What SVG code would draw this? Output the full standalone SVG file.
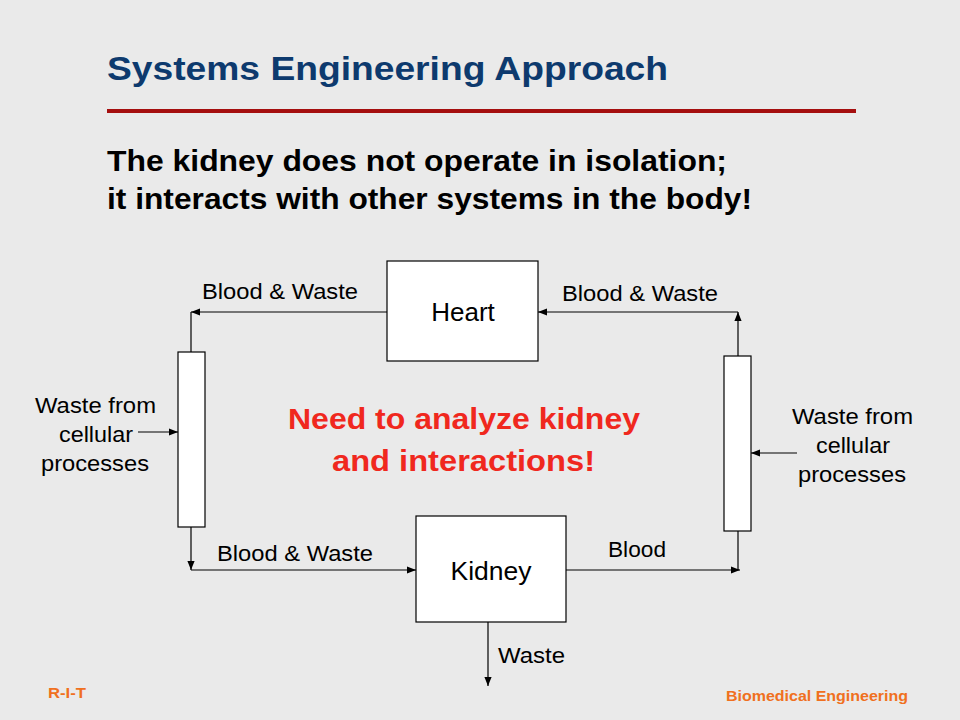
<svg xmlns="http://www.w3.org/2000/svg" width="960" height="720" viewBox="0 0 960 720">
<defs>
<marker id="ah" viewBox="0 0 10 10" refX="10" refY="5" markerWidth="9" markerHeight="9" markerUnits="userSpaceOnUse" orient="auto">
<path d="M0,1 L10,5 L0,9 z" fill="#000"/>
</marker>
<style>
.t{font-family:"Liberation Sans",Arial,sans-serif;fill:#000}
.lbl{font-size:22px}
.box{fill:#fff;stroke:#000;stroke-width:1.2}
.ln{fill:none;stroke:#000;stroke-width:1.2}
.ar{fill:none;stroke:#000;stroke-width:1.2;marker-end:url(#ah)}
.org{font-family:"Liberation Sans",Arial,sans-serif;font-weight:bold;font-size:14px;fill:#f07020}
</style>
</defs>
<rect width="960" height="720" fill="#eaeaea"/>
<text class="t" x="107" y="80" font-size="33" font-weight="bold" style="fill:#0d3a6e" textLength="561" lengthAdjust="spacingAndGlyphs">Systems Engineering Approach</text>
<rect x="107" y="109" width="749" height="4" fill="#a50f0f"/>
<text class="t" x="107" y="171" font-size="29" font-weight="bold" textLength="620" lengthAdjust="spacingAndGlyphs">The kidney does not operate in isolation;</text>
<text class="t" x="107" y="209" font-size="29" font-weight="bold" textLength="645" lengthAdjust="spacingAndGlyphs">it interacts with other systems in the body!</text>

<g id="connectors">
<path class="ar" d="M387,312 H191"/>
<path class="ln" d="M191,352 V312"/>
<path class="ar" d="M191,527 V570"/>
<path class="ar" d="M191,570 H416"/>
<path class="ar" d="M566,570 H740"/>
<path class="ln" d="M738,531 V570"/>
<path class="ar" d="M738,356 V312"/>
<path class="ar" d="M738,312 H538"/>
<path class="ar" d="M488,622 V686"/>
<path class="ar" d="M138,432 H178"/>
<path class="ar" d="M797,453 H751"/>
</g>

<g id="heart">
<rect class="box" x="387" y="261" width="151" height="100"/>
<text class="t" x="463" y="321" font-size="26" text-anchor="middle">Heart</text>
</g>
<g id="kidney">
<rect class="box" x="416" y="516" width="150" height="106"/>
<text class="t" x="491" y="580" font-size="26.5" text-anchor="middle">Kidney</text>
</g>
<g id="left-tissue">
<rect class="box" x="178" y="352" width="27" height="175"/>
</g>
<g id="right-tissue">
<rect class="box" x="724" y="356" width="27" height="175"/>
</g>

<g id="labels">
<text class="t lbl" x="202" y="299" textLength="156" lengthAdjust="spacingAndGlyphs">Blood &amp; Waste</text>
<text class="t lbl" x="562" y="301" textLength="156" lengthAdjust="spacingAndGlyphs">Blood &amp; Waste</text>
<text class="t lbl" x="217" y="561" textLength="156" lengthAdjust="spacingAndGlyphs">Blood &amp; Waste</text>
<text class="t lbl" x="608" y="557" textLength="58" lengthAdjust="spacingAndGlyphs">Blood</text>
<text class="t lbl" x="498" y="663" textLength="67" lengthAdjust="spacingAndGlyphs">Waste</text>
<text class="t lbl" font-size="23"><tspan x="35" y="413" textLength="121" lengthAdjust="spacingAndGlyphs">Waste from</tspan><tspan x="59" y="442" textLength="74" lengthAdjust="spacingAndGlyphs">cellular</tspan><tspan x="41" y="471" textLength="108" lengthAdjust="spacingAndGlyphs">processes</tspan></text>
<text class="t lbl" font-size="23"><tspan x="792" y="424" textLength="121" lengthAdjust="spacingAndGlyphs">Waste from</tspan><tspan x="816" y="453" textLength="74" lengthAdjust="spacingAndGlyphs">cellular</tspan><tspan x="798" y="482" textLength="108" lengthAdjust="spacingAndGlyphs">processes</tspan></text>
</g>

<g id="note">
<text class="t" x="288" y="429" font-size="30" font-weight="bold" style="fill:#f0281e" textLength="352" lengthAdjust="spacingAndGlyphs">Need to analyze kidney</text>
<text class="t" x="332" y="471" font-size="30" font-weight="bold" style="fill:#f0281e" textLength="263" lengthAdjust="spacingAndGlyphs">and interactions!</text>
</g>

<text class="org" x="48" y="698" textLength="38" lengthAdjust="spacingAndGlyphs">R-I-T</text>
<text class="org" x="908" y="701" text-anchor="end" textLength="182" lengthAdjust="spacingAndGlyphs">Biomedical Engineering</text>
</svg>
